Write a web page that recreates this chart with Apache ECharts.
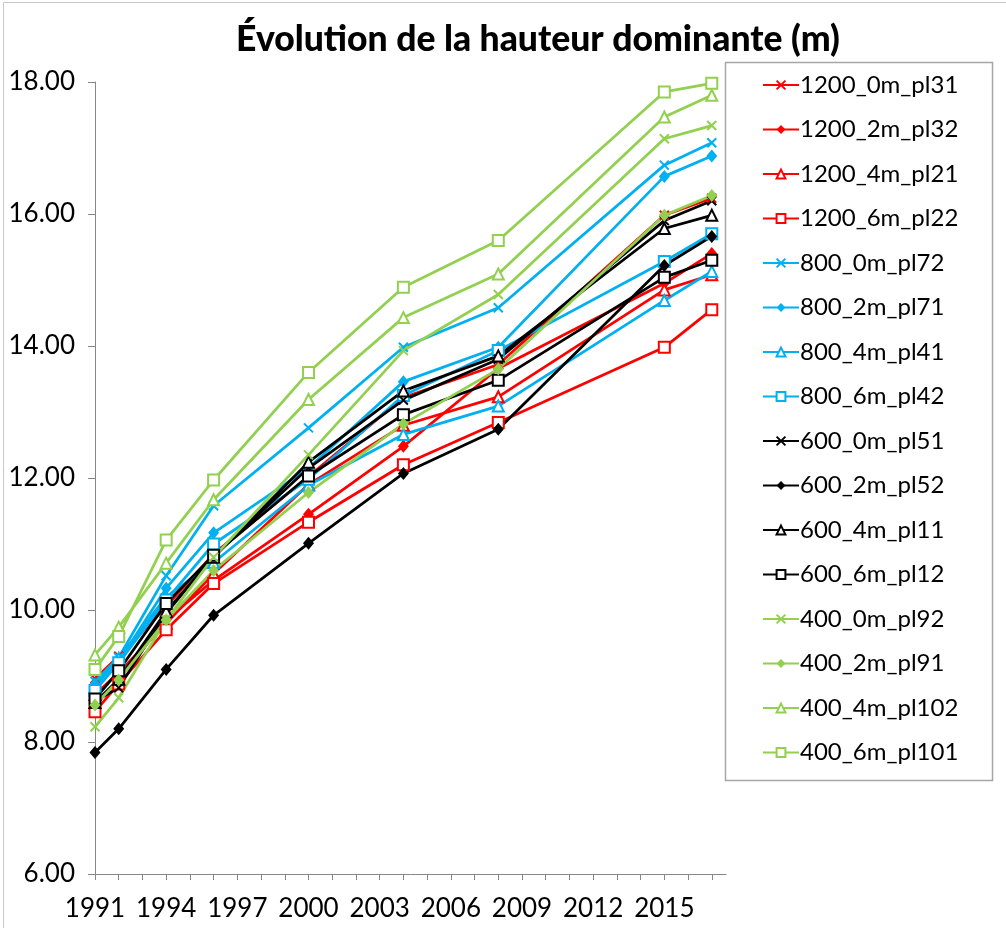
<!DOCTYPE html>
<html>
<head>
<meta charset="utf-8">
<script src="https://cdn.jsdelivr.net/npm/echarts@6/dist/echarts.min.js"></script>
<style>
  html, body { margin: 0; padding: 0; background: #fff; }
  #chart { width: 1006px; height: 928px; }
</style>
</head>
<body>
<div id="chart"></div>
<script>
// Survey years (x positions of every point)
const years = [1991, 1992, 1994, 1996, 2000, 2004, 2008, 2015, 2017];

// Dominant height (m) per plot
const h_1200_0m_pl31 = [8.96, 9.30, 10.05, 10.85, 12.02, 13.22, 13.72, 15.98, 16.24];
const h_1200_2m_pl32 = [8.55, 8.95, 9.85, 10.45, 11.45, 12.48, 13.66, 14.95, 15.40];
const h_1200_4m_pl21 = [8.72, 9.05, 9.80, 10.55, 11.90, 12.80, 13.23, 14.85, 15.08];
const h_1200_6m_pl22 = [8.46, 8.88, 9.70, 10.40, 11.33, 12.20, 12.84, 13.98, 14.55];
const h_800_0m_pl72  = [8.92, 9.28, 10.52, 11.58, 12.76, 13.98, 14.58, 16.74, 17.08];
const h_800_2m_pl71  = [8.88, 9.22, 10.33, 11.17, 12.15, 13.46, 13.98, 16.57, 16.88];
const h_800_4m_pl41  = [8.83, 9.27, 10.20, 10.72, 11.89, 12.66, 13.09, 14.69, 15.13];
const h_800_6m_pl42  = [8.78, 9.20, 10.15, 11.00, 11.98, 13.25, 13.93, 15.28, 15.70];
const h_600_0m_pl51  = [8.62, 8.82, 9.95, 10.82, 12.15, 13.18, 13.80, 15.90, 16.20];
const h_600_2m_pl52  = [7.84, 8.20, 9.10, 9.92, 11.01, 12.07, 12.74, 15.22, 15.66];
const h_600_4m_pl11  = [8.60, 8.95, 9.98, 10.80, 12.24, 13.32, 13.85, 15.78, 15.98];
const h_600_6m_pl12  = [8.65, 9.08, 10.10, 10.83, 12.03, 12.96, 13.48, 15.04, 15.30];
const h_400_0m_pl92  = [8.23, 8.67, 9.85, 10.80, 12.35, 13.93, 14.78, 17.14, 17.34];
const h_400_2m_pl91  = [8.56, 8.94, 9.85, 10.60, 11.78, 12.82, 13.65, 15.98, 16.28];
const h_400_4m_pl102 = [9.32, 9.74, 10.71, 11.67, 13.19, 14.43, 15.09, 17.47, 17.80];
const h_400_6m_pl101 = [9.10, 9.60, 11.06, 11.97, 13.60, 14.89, 15.60, 17.85, 17.98];

const seriesNames = [
  '1200_0m_pl31', '1200_2m_pl32', '1200_4m_pl21', '1200_6m_pl22',
  '800_0m_pl72', '800_2m_pl71', '800_4m_pl41', '800_6m_pl42',
  '600_0m_pl51', '600_2m_pl52', '600_4m_pl11', '600_6m_pl12',
  '400_0m_pl92', '400_2m_pl91', '400_4m_pl102', '400_6m_pl101'
];
const seriesValues = [
  h_1200_0m_pl31, h_1200_2m_pl32, h_1200_4m_pl21, h_1200_6m_pl22,
  h_800_0m_pl72, h_800_2m_pl71, h_800_4m_pl41, h_800_6m_pl42,
  h_600_0m_pl51, h_600_2m_pl52, h_600_4m_pl11, h_600_6m_pl12,
  h_400_0m_pl92, h_400_2m_pl91, h_400_4m_pl102, h_400_6m_pl101
];

// One colour per spacing group, one marker per thinning level
const groupColors = ['#FF0000', '#00B0F0', '#000000', '#92D050'];
const CROSS = 'path://M0,0L10,10M10,0L0,10';
const markerKinds = ['cross', 'diamond', 'triangle', 'rect'];

const FONT = 'Lato, "Liberation Sans", sans-serif';

function buildSeries(name, values, idx) {
  const color = groupColors[Math.floor(idx / 4)];
  const kind = markerKinds[idx % 4];
  const s = {
    name: name,
    type: 'line',
    data: years.map((y, i) => [y, values[i]]),
    lineStyle: { color: color, width: 2.75 },
    itemStyle: { color: color },
    symbolSize: 10,
    showAllSymbol: true,
    animation: false
  };
  if (kind === 'cross') {
    s.symbol = CROSS;
    s.symbolSize = 9;
    s.itemStyle = { color: color, borderColor: color, borderWidth: 2 };
  } else if (kind === 'diamond') {
    s.symbol = 'diamond';
    s.symbolSize = [11, 13];
  } else if (kind === 'triangle') {
    s.symbol = 'emptyTriangle';
    s.symbolSize = 11;
    s.itemStyle = { color: color, borderColor: color, borderWidth: 1.6 };
  } else {
    s.symbol = 'emptyRect';
    s.symbolSize = 11;
    s.itemStyle = { color: color, borderColor: color, borderWidth: 1.6 };
  }
  return s;
}

const chart = echarts.init(document.getElementById('chart'), null, { renderer: 'canvas' });

const option = {
  backgroundColor: '#ffffff',
  animation: false,
  title: {
    text: 'Évolution de la hauteur dominante (m)',
    left: 533,
    top: 17,
    textAlign: 'center',
    textStyle: { fontFamily: FONT, fontWeight: 900, fontSize: 35.5, color: '#000' }
  },
  graphic: [
    {
      type: 'rect', left: 1, top: 0, silent: true,
      shape: { width: 1003, height: 926 },
      style: { fill: 'none', stroke: '#c8c8c8', lineWidth: 1 }
    },
    {
      type: 'rect', left: 723, top: 60, silent: true,
      shape: { width: 267, height: 718 },
      style: { fill: 'none', stroke: '#a6a6a6', lineWidth: 1.5 }
    }
  ],
  legend: {
    orient: 'vertical',
    left: 757,
    top: 68,
    itemWidth: 36,
    itemHeight: 11,
    itemGap: 20.5,
    data: seriesNames,
    textStyle: { fontFamily: FONT, fontSize: 24, color: '#000', lineHeight: 24, padding: [0, 0, 0, -4] }
  },
  grid: { left: 95, top: 82, right: 280, bottom: 54, containLabel: false },
  xAxis: {
    type: 'value',
    min: 1991,
    max: 2017.6,
    interval: 1,
    splitLine: { show: false },
    axisLine: { lineStyle: { color: '#868686', width: 1 } },
    axisTick: { show: true, length: 6, lineStyle: { color: '#868686' } },
    axisLabel: {
      margin: 22,
      fontFamily: FONT,
      fontSize: 26,
      color: '#000',
      showMaxLabel: false,
      formatter: function (v) {
        return (Number.isInteger(v) && (v - 1991) % 3 === 0) ? String(v) : '';
      }
    }
  },
  yAxis: {
    type: 'value',
    min: 6,
    max: 18,
    interval: 2,
    splitLine: { show: false },
    axisLine: { show: true, lineStyle: { color: '#868686', width: 1 } },
    axisTick: { show: true, length: 7, lineStyle: { color: '#868686' } },
    axisLabel: {
      margin: 20,
      fontFamily: FONT,
      fontSize: 26,
      color: '#000',
      formatter: function (v) { return v.toFixed(2); }
    }
  },
  series: seriesNames.map((n, i) => buildSeries(n, seriesValues[i], i))
};

chart.setOption(option);
</script>
</body>
</html>
